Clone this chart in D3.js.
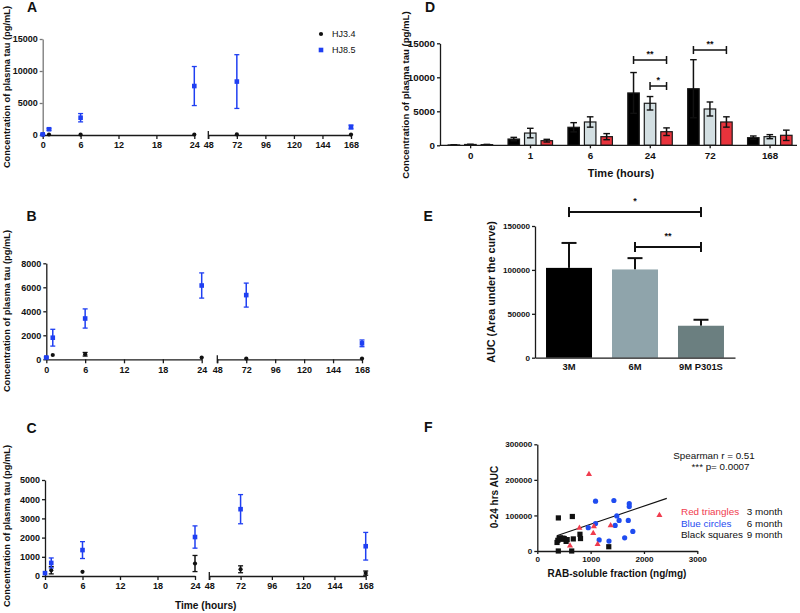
<!DOCTYPE html>
<html><head><meta charset="utf-8">
<script src="https://cdn.jsdelivr.net/npm/d3@7"></script>
<style>body{margin:0;background:#fff} svg{display:block} text{font-family:"Liberation Sans",Arial,sans-serif}</style>
</head><body><svg id="c" width="800" height="613"></svg>
<script>
// ---------- data ----------
const hours = [0, 1, 6, 24, 72, 168];
const firstTicks = [0, 6, 12, 18, 24];
const secondTicks = [48, 72, 96, 120, 144, 168];
const seriesNames = ["HJ3.4", "HJ8.5"];

const aHJ34 = [60, 80, 70, 80, 90, 70];
const aHJ34Err = [0, 0, 0, 0, 0, 0];
const aHJ85 = [100, 900, 2700, 7650, 8350, 1250];
const aHJ85Err = [60, 150, 650, 3050, 4200, 300];
const aTicks = [0, 5000, 10000, 15000];

const bHJ34 = [140, 360, 420, 140, 60, 60];
const bHJ34Err = [0, 0, 150, 0, 0, 0];
const bHJ85 = [150, 1800, 3400, 6150, 5350, 1330];
const bHJ85Err = [60, 700, 800, 1050, 1000, 280];
const bTicks = [0, 2000, 4000, 6000, 8000];

const cHJ34 = [150, 300, 220, 650, 350, 150];
const cHJ34Err = [0, 190, 0, 420, 180, 110];
const cHJ85 = [150, 680, 1350, 2030, 3480, 1550];
const cHJ85Err = [0, 260, 440, 580, 760, 720];
const cTicks = [0, 1000, 2000, 3000, 4000, 5000];

const dGroups = ["0", "1", "6", "24", "72", "168"];
const dSeries = ["3M", "6M", "9M"];
const d3M = [50, 920, 2650, 7700, 8320, 1120];
const d3MErr = [30, 250, 680, 3000, 4270, 250];
const d6M = [120, 1800, 3430, 6180, 5340, 1270];
const d6MErr = [40, 700, 760, 990, 1030, 300];
const d9M = [100, 680, 1270, 2000, 3430, 1470];
const d9MErr = [40, 200, 450, 560, 760, 760];
const dTicks = [0, 5000, 10000, 15000];
const dSig = [["24", "3M", "9M", 12540, "**"], ["24", "6M", "9M", 8720, "*"], ["72", "3M", "9M", 14010, "**"]];

const eCats = ["3M", "6M", "9M P301S"];
const eVals = [102300, 100500, 36400];
const eErr = [28400, 12900, 6800];
const eTicks = [0, 50000, 100000, 150000];
const eSig = [["3M", "9M P301S", 165900, "*"], ["6M", "9M P301S", 126100, "**"]];

const fRedX = [969, 790, 1061, 1375, 1049, 613, 1131, 2290];
const fRedY = [216000, 64500, 69000, 72000, 50000, 14500, 19000, 100500];
const fBlueX = [1092, 1436, 1724, 1724, 1491, 1534, 1706, 1092, 955, 1460, 1160, 1344, 1638, 1791];
const fBlueY = [140000, 142000, 133000, 125000, 98600, 86000, 86000, 77000, 65500, 72000, 31000, 28000, 37000, 55000];
const fBlackX = [395, 657, 370, 385, 410, 435, 460, 480, 505, 540, 560, 675, 800, 810, 394, 645, 1340];
const fBlackY = [93000, 97000, 24000, 30000, 35000, 37000, 33000, 36000, 35000, 27000, 32000, 34000, 47000, 35000, 0, 0, 12000];
const fLineX = [364, 2428];
const fLineY = [43000, 148000];
const fTicksX = [0, 1000, 2000, 3000];
const fTicksY = [0, 100000, 200000, 300000];
const fLegend = [["Red triangles", "3 month"], ["Blue circles", "6 month"], ["Black squares", "9 month"]];

// ---------- drawing ----------
const svg = d3.select("#c");
const FONT = '"Liberation Sans", Arial, sans-serif';
const BLUE = "#1f3ff2";
const fmt = d3.format("d");

function styleAxis(g, size, color) {
  g.selectAll("path,line").attr("stroke", color || "#1a1a1a").attr("stroke-width", 1.3);
  g.selectAll("text").attr("font-size", size).attr("font-weight", "bold").attr("fill", "#111").attr("font-family", FONT);
}
function letter(t, x, y) {
  svg.append("text").attr("x", x).attr("y", y).text(t).attr("font-size", 14).attr("font-weight", "bold").attr("fill", "#111");
}
function yTitle(t, x, y, size) {
  svg.append("text").attr("transform", `translate(${x},${y}) rotate(-90)`).attr("text-anchor", "middle")
    .attr("dy", "0.35em").attr("font-size", size).attr("font-weight", "bold").attr("fill", "#111").text(t);
}

function timePanel(cfg) {
  const s1 = d3.scaleLinear().domain([0, 24]).range([cfg.x0, cfg.x24]);
  const s2 = d3.scaleLinear().domain([48, 168]).range([cfg.x48, cfg.x168]);
  const xp = t => t <= 24 ? s1(t) : s2(t);
  const y = d3.scaleLinear().domain([0, cfg.ticks[cfg.ticks.length - 1]]).range([cfg.yBase, cfg.yTop]);
  const g = svg.append("g");
  const ya = g.append("g").attr("transform", `translate(${cfg.x0},0)`)
    .call(d3.axisLeft(y).tickValues(cfg.ticks).tickFormat(fmt).tickSize(3).tickSizeOuter(0).tickPadding(2));
  styleAxis(ya, 9, cfg.yColor);
  const xa1 = g.append("g").attr("transform", `translate(0,${cfg.yBase})`)
    .call(d3.axisBottom(s1).tickValues(firstTicks).tickFormat(fmt).tickSize(4).tickSizeOuter(0).tickPadding(3));
  styleAxis(xa1, 9);
  const xa2 = g.append("g").attr("transform", `translate(0,${cfg.yBase})`)
    .call(d3.axisBottom(s2).tickValues(secondTicks).tickFormat(fmt).tickSize(4).tickSizeOuter(0).tickPadding(3));
  styleAxis(xa2, 9);
  g.append("line").attr("x1", cfg.x48).attr("x2", cfg.x48).attr("y1", cfg.yBase - 4).attr("y2", cfg.yBase + 4)
    .attr("stroke", "#1a1a1a").attr("stroke-width", 1.3);

  function series(vals, errs, color, shape) {
    const sg = g.append("g");
    hours.forEach((t, i) => {
      const cx = xp(t), e = errs[i];
      if (e > 0) {
        const yt = y(vals[i] + e), yb = y(Math.max(0, vals[i] - e));
        sg.append("line").attr("x1", cx).attr("x2", cx).attr("y1", yt).attr("y2", yb).attr("stroke", color).attr("stroke-width", 1.5);
        [yt, yb].forEach(yy => sg.append("line").attr("x1", cx - 2.5).attr("x2", cx + 2.5).attr("y1", yy).attr("y2", yy)
          .attr("stroke", color).attr("stroke-width", 1.3));
      }
      if (shape === "circle") sg.append("circle").attr("cx", cx).attr("cy", y(vals[i])).attr("r", 2.1).attr("fill", color);
      else sg.append("rect").attr("x", cx - 2.3).attr("y", y(vals[i]) - 2.3).attr("width", 4.6).attr("height", 4.6).attr("fill", color);
    });
  }
  series(cfg.hj34, cfg.hj34Err, "#111", "circle");
  series(cfg.hj85, cfg.hj85Err, BLUE, "square");
  return { s1, s2, y };
}

// Panel A
timePanel({ x0: 42.7, x24: 194.3, x48: 208.3, x168: 351, yBase: 135, yTop: 39, ticks: aTicks,
  hj34: aHJ34, hj34Err: aHJ34Err, hj85: aHJ85, hj85Err: aHJ85Err, yColor: "#777" });
letter("A", 27, 12);
yTitle("Concentration of plasma tau (pg/mL)", 6.5, 87, 9.3);
// legend A
svg.append("circle").attr("cx", 321).attr("cy", 34).attr("r", 2.1).attr("fill", "#111");
svg.append("rect").attr("x", 318.7).attr("y", 47.7).attr("width", 4.6).attr("height", 4.6).attr("fill", BLUE);
seriesNames.forEach((n, i) => svg.append("text").attr("x", 332).attr("y", 34 + i * 16).attr("dy", "0.35em")
  .attr("font-size", 9).attr("fill", "#111").text(n));

// Panel B
timePanel({ x0: 46.3, x24: 201.7, x48: 217.3, x168: 362, yBase: 359.3, yTop: 263.3, ticks: bTicks,
  hj34: bHJ34, hj34Err: bHJ34Err, hj85: bHJ85, hj85Err: bHJ85Err });
letter("B", 26.5, 220.5);
yTitle("Concentration of plasma tau (pg/mL)", 6.5, 311, 9.3);

// Panel C
timePanel({ x0: 45, x24: 195, x48: 209.3, x168: 365.7, yBase: 576, yTop: 480, ticks: cTicks,
  hj34: cHJ34, hj34Err: cHJ34Err, hj85: cHJ85, hj85Err: cHJ85Err });
letter("C", 26.5, 433);
yTitle("Concentration of plasma tau (pg/mL)", 6.5, 526, 9.3);
svg.append("text").attr("x", 205.7).attr("y", 609).attr("text-anchor", "middle").attr("font-size", 10.2)
  .attr("font-weight", "bold").attr("fill", "#111").text("Time (hours)");

// Panel D
(function () {
  const x = d3.scaleBand().domain(dGroups).range([440.7, 800]);
  const xi = d3.scaleBand().domain(dSeries).range([-22.5 + x.bandwidth() / 2, 22 + x.bandwidth() / 2]).paddingInner(0.303);
  const y = d3.scaleLinear().domain([0, 15000]).range([145.3, 43.3]);
  const vals = { "3M": d3M, "6M": d6M, "9M": d9M };
  const errs = { "3M": d3MErr, "6M": d6MErr, "9M": d9MErr };
  const fills = { "3M": "#000", "6M": "#d3dfe2", "9M": "#e8333c" };
  const g = svg.append("g");
  dSeries.forEach(s => {
    dGroups.forEach((grp, i) => {
      const bx = x(grp) + xi(s), bw = xi.bandwidth();
      g.append("rect").attr("x", bx).attr("y", y(vals[s][i])).attr("width", bw).attr("height", y(0) - y(vals[s][i]))
        .attr("fill", fills[s]).attr("stroke", "#1a1a1a").attr("stroke-width", 1.2);
    });
  });
  dSeries.forEach(s => {
    dGroups.forEach((grp, i) => {
      const cx = x(grp) + xi(s) + xi.bandwidth() / 2;
      const yt = y(vals[s][i] + errs[s][i]), yb = y(Math.max(0, vals[s][i] - errs[s][i]));
      g.append("line").attr("x1", cx).attr("x2", cx).attr("y1", yt).attr("y2", yb).attr("stroke", "#111").attr("stroke-width", 1.5);
      [yt, yb].forEach(yy => g.append("line").attr("x1", cx - 3.3).attr("x2", cx + 3.3).attr("y1", yy).attr("y2", yy)
        .attr("stroke", "#111").attr("stroke-width", 1.4));
    });
  });
  const ya = g.append("g").attr("transform", "translate(440,0)")
    .call(d3.axisLeft(y).tickValues(dTicks).tickFormat(fmt).tickSize(3).tickSizeOuter(0).tickPadding(2));
  styleAxis(ya, 9.8);
  const xa = g.append("g").attr("transform", "translate(0,145.3)")
    .call(d3.axisBottom(x).tickSize(3).tickSizeOuter(0).tickPadding(4));
  styleAxis(xa, 9.8);
  xa.select(".domain").attr("d", "M440,0H797");
  dSig.forEach(([grp, a, b, v, lab]) => {
    const x1 = x(grp) + xi(a) + xi.bandwidth() / 2, x2 = x(grp) + xi(b) + xi.bandwidth() / 2, yy = y(v);
    g.append("line").attr("x1", x1).attr("x2", x2).attr("y1", yy).attr("y2", yy).attr("stroke", "#111").attr("stroke-width", 1.5);
    [x1, x2].forEach(xx => g.append("line").attr("x1", xx).attr("x2", xx).attr("y1", yy - 4).attr("y2", yy + 4)
      .attr("stroke", "#111").attr("stroke-width", 1.5));
    g.append("text").attr("x", (x1 + x2) / 2).attr("y", yy - 3).attr("text-anchor", "middle").attr("font-size", 9)
      .attr("font-weight", "bold").attr("fill", "#111").text(lab);
  });
  letter("D", 425, 12);
  yTitle("Concentration of plasma tau (pg/mL)", 405.5, 95, 9.6);
  svg.append("text").attr("x", 621).attr("y", 177).attr("text-anchor", "middle").attr("font-size", 11)
    .attr("font-weight", "bold").attr("fill", "#111").text("Time (hours)");
})();

// Panel E
(function () {
  const x = d3.scaleBand().domain(eCats).range([535, 735]).paddingInner(0.303).paddingOuter(0.167);
  const y = d3.scaleLinear().domain([0, 150000]).range([357.7, 226]);
  const fills = ["#000", "#8fa4ab", "#6b7f80"];
  const g = svg.append("g");
  eCats.forEach((c, i) => {
    const cx = x(c) + x.bandwidth() / 2;
    g.append("line").attr("x1", cx).attr("x2", cx).attr("y1", y(eVals[i])).attr("y2", y(eVals[i] + eErr[i]))
      .attr("stroke", "#111").attr("stroke-width", 2);
    g.append("line").attr("x1", cx - 7.5).attr("x2", cx + 7.5).attr("y1", y(eVals[i] + eErr[i])).attr("y2", y(eVals[i] + eErr[i]))
      .attr("stroke", "#111").attr("stroke-width", 2);
    g.append("rect").attr("x", x(c)).attr("y", y(eVals[i])).attr("width", x.bandwidth()).attr("height", y(0) - y(eVals[i]))
      .attr("fill", fills[i]);
  });
  const ya = g.append("g").attr("transform", "translate(535,0)")
    .call(d3.axisLeft(y).tickValues(eTicks).tickFormat(fmt).tickSize(3).tickSizeOuter(0).tickPadding(2));
  styleAxis(ya, 8.1);
  const xa = g.append("g").attr("transform", "translate(0,357.7)")
    .call(d3.axisBottom(x).tickSize(0).tickSizeOuter(0).tickPadding(6));
  styleAxis(xa, 9.4);
  eSig.forEach(([a, b, v, lab]) => {
    const x1 = x(a) + x.bandwidth() / 2, x2 = x(b) + x.bandwidth() / 2, yy = y(v);
    g.append("line").attr("x1", x1).attr("x2", x2).attr("y1", yy).attr("y2", yy).attr("stroke", "#111").attr("stroke-width", 2);
    [x1, x2].forEach(xx => g.append("line").attr("x1", xx).attr("x2", xx).attr("y1", yy - 5).attr("y2", yy + 5)
      .attr("stroke", "#111").attr("stroke-width", 2));
    g.append("text").attr("x", (x1 + x2) / 2).attr("y", yy - 8).attr("text-anchor", "middle").attr("font-size", 9)
      .attr("font-weight", "bold").attr("fill", "#111").text(lab);
  });
  letter("E", 423.5, 220.5);
  yTitle("AUC (Area under the curve)", 491.5, 292, 10.8);
})();

// Panel F
(function () {
  const x = d3.scaleLinear().domain([0, 3000]).range([537.3, 697.3]);
  const y = d3.scaleLinear().domain([0, 300000]).range([551, 444.3]);
  const g = svg.append("g");
  const ya = g.append("g").attr("transform", "translate(537.3,0)")
    .call(d3.axisLeft(y).tickValues(fTicksY).tickFormat(fmt).tickSize(3).tickSizeOuter(0).tickPadding(2));
  styleAxis(ya, 8.1);
  const xa = g.append("g").attr("transform", "translate(0,551)")
    .call(d3.axisBottom(x).tickValues(fTicksX).tickFormat(fmt).tickSize(3).tickSizeOuter(0).tickPadding(2));
  styleAxis(xa, 8.1);
  g.append("line").attr("x1", x(fLineX[0])).attr("x2", x(fLineX[1])).attr("y1", y(fLineY[0])).attr("y2", y(fLineY[1]))
    .attr("stroke", "#111").attr("stroke-width", 1.1);
  fBlackX.forEach((v, i) => g.append("rect").attr("x", x(v) - 2.6).attr("y", y(fBlackY[i]) - 2.6)
    .attr("width", 5.2).attr("height", 5.2).attr("fill", "#111"));
  fBlueX.forEach((v, i) => g.append("circle").attr("cx", x(v)).attr("cy", y(fBlueY[i])).attr("r", 2.6).attr("fill", "#1f4cf0"));
  const tri = d3.symbol().type(d3.symbolTriangle).size(16);
  fRedX.forEach((v, i) => g.append("path").attr("d", tri).attr("transform", `translate(${x(v)},${y(fRedY[i])})`).attr("fill", "#f03c4e"));
  letter("F", 424, 431.5);
  yTitle("0-24 hrs AUC", 494, 497, 10);
  svg.append("text").attr("x", 617).attr("y", 577).attr("text-anchor", "middle").attr("font-size", 10)
    .attr("font-weight", "bold").attr("fill", "#111").text("RAB-soluble fraction (ng/mg)");
  svg.append("text").attr("x", 673.3).attr("y", 458.5).attr("font-size", 9.8).attr("fill", "#111").text("Spearman r = 0.51");
  svg.append("text").attr("x", 691.5).attr("y", 470).attr("font-size", 9.8).attr("fill", "#111").text("*** p= 0.0007");
  const lc = ["#f03c4e", "#1f4cf0", "#111"];
  fLegend.forEach(([a, b], i) => {
    svg.append("text").attr("x", 681).attr("y", 515 + i * 11.7).attr("font-size", 9.9).attr("fill", lc[i]).text(a);
    svg.append("text").attr("x", 782.5).attr("y", 515 + i * 11.7).attr("text-anchor", "end").attr("font-size", 9.9).attr("fill", "#111").text(b);
  });
})();
</script></body></html>
